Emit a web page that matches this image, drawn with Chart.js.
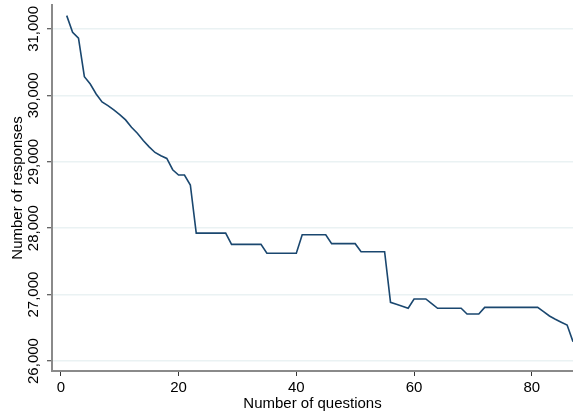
<!DOCTYPE html>
<html>
<head>
<meta charset="utf-8">
<script src="https://cdn.jsdelivr.net/npm/chart.js@4.4.1/dist/chart.umd.min.js"></script>
<style>
    html, body { margin: 0; padding: 0; background: #fff; }
    #wrap { width: 573px; height: 413px; position: relative; }
</style>
</head>
<body>
<div id="wrap"><canvas id="myChart"></canvas></div>
<script>
const questions = [
    1, 2, 3, 4, 5, 6, 7, 8, 9, 10, 11, 12, 13, 14, 15, 16, 17, 18, 19, 20,
    21, 22, 23, 24, 25, 26, 27, 28, 29, 30, 31, 32, 33, 34, 35, 36, 37, 38, 39, 40,
    41, 42, 43, 44, 45, 46, 47, 48, 49, 50, 51, 52, 53, 54, 55, 56, 57, 58, 59, 60,
    61, 62, 63, 64, 65, 66, 67, 68, 69, 70, 71, 72, 73, 74, 75, 76, 77, 78, 79, 80,
    81, 82, 83, 84, 85, 86, 87
];
const responses = [
    31200, 30950, 30860, 30280, 30170, 30020, 29900, 29845, 29780, 29710,
    29630, 29520, 29430, 29320, 29225, 29140, 29090, 29050, 28880, 28800,
    28800, 28650, 27925, 27925, 27925, 27925, 27925, 27925, 27757, 27757,
    27757, 27757, 27757, 27757, 27622, 27622, 27622, 27622, 27622, 27622,
    27902, 27902, 27902, 27902, 27902, 27767, 27767, 27767, 27767, 27767,
    27646, 27646, 27646, 27646, 27646, 26884, 26855, 26825, 26794, 26934,
    26934, 26934, 26864, 26794, 26794, 26794, 26794, 26794, 26708, 26708,
    26708, 26808, 26808, 26808, 26808, 26808, 26808, 26808, 26808, 26808,
    26808, 26745, 26678, 26630, 26585, 26542, 26291
];
const xTicks = [0, 20, 40, 60, 80];
const yTicks = [26000, 27000, 28000, 29000, 30000, 31000];

const fontFamily = '"Liberation Sans", Arial, sans-serif';

// y tick labels are drawn turned on their side, centred on the tick
const sideLabels = {
    id: 'sideLabels',
    afterDraw(chart) {
        const ctx = chart.ctx;
        const y = chart.scales.y;
        ctx.save();
        ctx.font = '15px ' + fontFamily;
        ctx.fillStyle = '#000';
        ctx.textAlign = 'center';
        ctx.textBaseline = 'middle';
        yTicks.forEach(v => {
            ctx.save();
            ctx.translate(34, y.getPixelForValue(v));
            ctx.rotate(-Math.PI / 2);
            ctx.fillText(v.toLocaleString('en-US'), 0, 0);
            ctx.restore();
        });
        ctx.restore();
    }
};

const ctx = document.getElementById('myChart').getContext('2d');
const chart = new Chart(ctx, {
    type: 'line',
    data: {
        datasets: [{
            data: questions.map((q, i) => ({ x: q, y: responses[i] })),
            borderColor: '#1a476f',
            borderWidth: 1.6,
            pointRadius: 0,
            tension: 0,
            fill: false
        }]
    },
    options: {
        responsive: true,
        maintainAspectRatio: false,
        animation: false,
        layout: { padding: { top: 5, right: 0, left: 0, bottom: 0 } },
        plugins: {
            legend: { display: false },
            tooltip: { enabled: false }
        },
        scales: {
            x: {
                type: 'linear',
                min: -1.5,
                max: 87,
                afterBuildTicks: scale => { scale.ticks = xTicks.map(v => ({ value: v })); },
                afterFit: scale => { scale.height = 42; },
                grid: {
                    drawOnChartArea: false,
                    drawTicks: true,
                    tickLength: 5,
                    tickColor: '#333',
                    tickWidth: 1
                },
                border: { color: '#8a8a8a', width: 2 },
                ticks: {
                    color: '#000',
                    padding: 3,
                    maxRotation: 0,
                    font: { family: fontFamily, size: 15 }
                },
                title: {
                    display: true,
                    text: 'Number of questions',
                    color: '#000',
                    padding: { top: 0, bottom: 0 },
                    font: { family: fontFamily, size: 15 }
                }
            },
            y: {
                min: 25850,
                max: 31360,
                afterBuildTicks: scale => { scale.ticks = yTicks.map(v => ({ value: v })); },
                afterFit: scale => { scale.width = 52; },
                grid: {
                    color: '#eaf2f3',
                    lineWidth: 1.5,
                    drawTicks: true,
                    tickLength: 5,
                    tickColor: '#333',
                    tickWidth: 1
                },
                border: { color: '#8a8a8a', width: 2 },
                ticks: { display: false },
                title: {
                    display: true,
                    text: 'Number of responses',
                    color: '#000',
                    padding: { top: 9, bottom: 0 },
                    font: { family: fontFamily, size: 15 }
                }
            }
        }
    },
    plugins: [sideLabels]
});
</script>
</body>
</html>
